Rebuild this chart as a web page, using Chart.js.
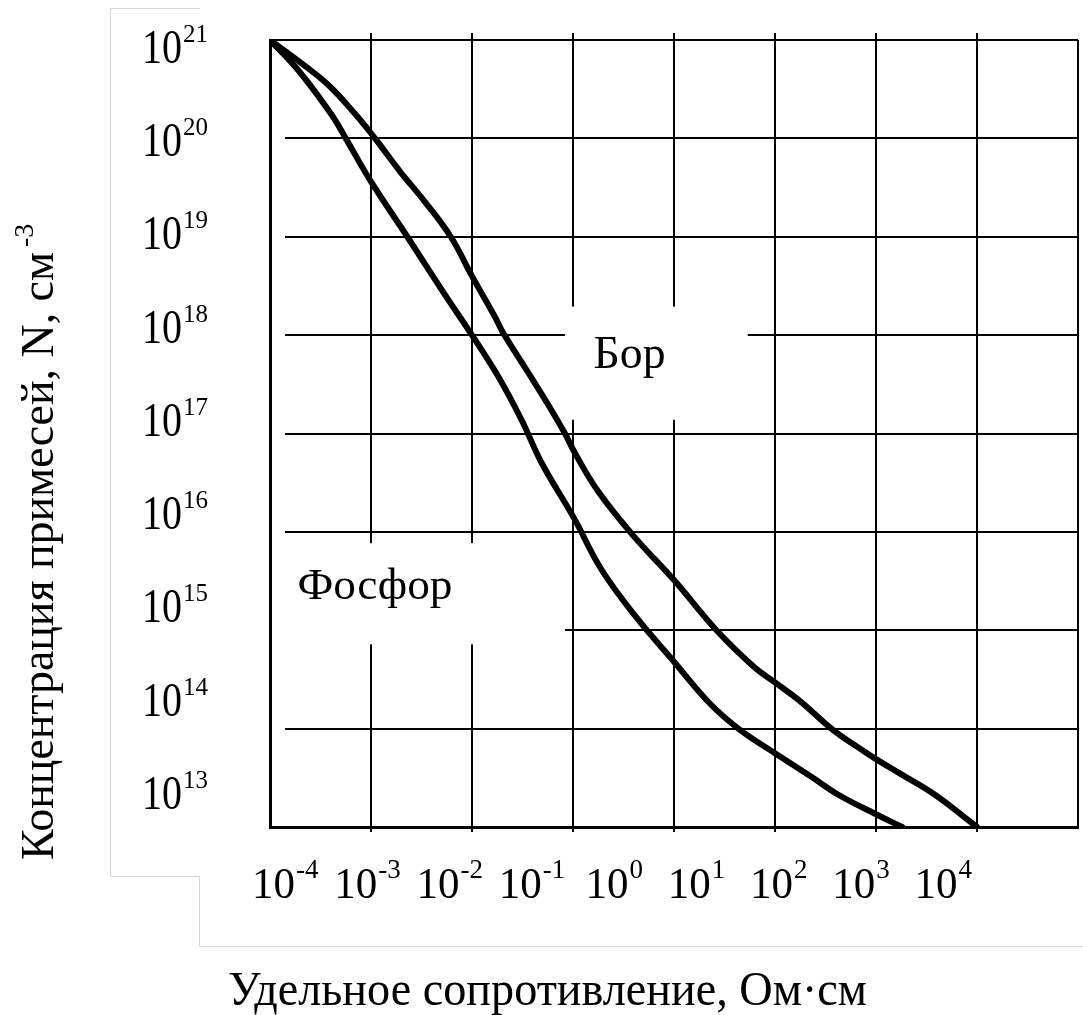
<!DOCTYPE html>
<html lang="ru">
<head>
<meta charset="UTF-8" />
<title>Концентрация примесей и удельное сопротивление</title>
<script src="https://cdn.jsdelivr.net/npm/chart.js@4"></script>
<style>
  html, body {
    margin: 0;
    padding: 0;
    background: #fff;
    overflow: hidden;
  }
  #wrap {
    position: relative;
    width: 1083px;
    height: 1015px;
  }
  .frame {
    position: absolute;
    background: #d6d6d6;
  }
  canvas {
    position: absolute;
    left: 0;
    top: 0;
  }
</style>
</head>
<body>
<div id="wrap">
  <!-- светло-серая рамка вокруг рисунка -->
  <div class="frame" style="left:110px;top:8px;width:90px;height:1px"></div>
  <div class="frame" style="left:110px;top:8px;width:1px;height:869px"></div>
  <div class="frame" style="left:110px;top:876px;width:90px;height:1px"></div>
  <div class="frame" style="left:199px;top:876px;width:1px;height:71px"></div>
  <div class="frame" style="left:199px;top:946px;width:884px;height:1px"></div>
  <canvas id="chart" width="1083" height="1015"></canvas>
</div>

<script>
  // Значения, в десятичных логарифмах:
  // lg ρ (Ом·см) и lg N (см^-3)
  const borLgRho = [-4, -3.71, -3.42, -3.15, -2.96, -2.71, -2.47, -2.21, -2.0, -1.77, -1.69,
                    -1.45, -1.25, -1.08, -0.98, -0.75, -0.41, 0, 0.43, 0.79, 1.0, 1.26, 1.57,
                    1.88, 2.0, 2.26, 2.58, 3.0];
  const borLgN   = [21, 20.78, 20.54, 20.24, 20.0, 19.66, 19.36, 19.0, 18.6, 18.18, 18.02,
                    17.63, 17.3, 17.0, 16.8, 16.41, 15.97, 15.51, 14.99, 14.63, 14.47, 14.27, 13.99,
                    13.77, 13.69, 13.53, 13.33, 13.0];

  const fosLgRho = [-4, -3.71, -3.39, -3.25, -3.0, -2.64, -2.28, -2.0, -1.74, -1.51, -1.31,
                    -0.99, -0.72, -0.38, 0, 0.36, 0.65, 1.0, 1.36, 1.64, 2.0, 2.26];
  const fosLgN   = [21, 20.68, 20.24, 20.0, 19.56, 19.0, 18.43, 18.0, 17.58, 17.14, 16.7,
                    16.14, 15.62, 15.14, 14.68, 14.25, 13.99, 13.75, 13.51, 13.32, 13.13, 13.0];

  // декады сетки
  const rhoDecades = [-4, -3, -2, -1, 0, 1, 2, 3, 4];
  const nDecades = [13, 14, 15, 16, 17, 18, 19, 20, 21];

  // подписи делений (показатели степени у "10")
  const xTickExp = ['-4', '-3', '-2', '-1', '0', '1', '2', '3', '4'];
  const yTickExp = ['13', '14', '15', '16', '17', '18', '19', '20', '21'];

  const xTitle = 'Удельное сопротивление, Ом·см';
  const yTitle = 'Концентрация примесей, N, см';
  const yTitleSup = '-3';
  const borLabel = 'Бор';
  const fosLabel = 'Фосфор';

  const FONT = '"Liberation Serif", "Times New Roman", serif';

  const toPoints = (lx, ly) => lx.map((v, i) => ({ x: Math.pow(10, v), y: Math.pow(10, ly[i]) }));

  function fitText(ctx, text, x, y, size, width, align) {
    ctx.font = size + 'px ' + FONT;
    const w = ctx.measureText(text).width;
    const k = width ? width / w : 1;
    ctx.save();
    ctx.translate(x, y);
    ctx.scale(k, 1);
    ctx.textAlign = align || 'left';
    ctx.textBaseline = 'alphabetic';
    ctx.fillText(text, 0, 0);
    ctx.restore();
    return w * k;
  }

  // "10" со степенью
  function drawPow(ctx, exp, x, base, o) {
    ctx.font = o.size + 'px ' + FONT;
    const w1 = ctx.measureText('10').width * o.sx;
    ctx.font = o.sup + 'px ' + FONT;
    const w2 = ctx.measureText(exp).width * o.sx;
    const x0 = o.align === 'center' ? x - (w1 + w2 + 1) / 2 : x;

    ctx.save();
    ctx.textAlign = 'left';
    ctx.textBaseline = 'alphabetic';
    ctx.translate(x0, base);
    ctx.scale(o.sx, o.sy);
    ctx.font = o.size + 'px ' + FONT;
    ctx.fillText('10', 0, 0);
    ctx.restore();

    ctx.save();
    ctx.textAlign = 'left';
    ctx.textBaseline = 'alphabetic';
    ctx.translate(x0 + w1 + 1, base - o.raise);
    ctx.scale(o.sx, o.supSy);
    ctx.font = o.sup + 'px ' + FONT;
    ctx.fillText(exp, 0, 0);
    ctx.restore();
  }

  const annotate = {
    id: 'annotate',
    // белые подложки под надписями дают разрывы линий сетки
    beforeDatasetsDraw(chart) {
      const { ctx, chartArea: a, scales: { x, y } } = chart;
      const px = v => x.getPixelForValue(Math.pow(10, v));
      const py = v => y.getPixelForValue(Math.pow(10, v));
      ctx.save();
      ctx.fillStyle = '#fff';
      const boxes = [
        [-1.08, 0.73, 18.29, 17.14],
        [-4, -1.08, 15.885, 14.857]
      ];
      boxes.forEach(b => {
        const x1 = Math.max(px(b[0]), a.left + 2);
        ctx.fillRect(x1, py(b[2]), px(b[1]) - x1, py(b[3]) - py(b[2]));
      });
      // горизонтальные линии начинаются чуть правее оси
      ctx.fillRect(a.left + 2, py(20.5), 13, a.bottom - 3 - py(20.5));
      ctx.restore();
    },
    afterDraw(chart) {
      const { ctx, chartArea: a, scales: { x, y, xLab, yLab } } = chart;
      ctx.save();
      ctx.fillStyle = '#000';

      // надписи кривых
      fitText(ctx, borLabel, x.getPixelForValue(Math.pow(10, -0.44)),
              y.getPixelForValue(Math.pow(10, 17.67)), 47, 72, 'center');
      fitText(ctx, fosLabel, x.getPixelForValue(Math.pow(10, -2.96)),
              y.getPixelForValue(Math.pow(10, 15.317)), 45, 155, 'center');

      // подписи делений по оси X
      xTickExp.forEach((e, i) => {
        drawPow(ctx, e, xLab.getPixelForValue(i), a.bottom + 71,
          { size: 43, sup: 27, raise: 20, sx: 1, sy: 1.02, supSy: 1, align: 'center' });
      });

      // подписи делений по оси Y
      yTickExp.forEach((e, i) => {
        drawPow(ctx, e, a.left - 128, yLab.getPixelForValue(i) + 16.5,
          { size: 40, sup: 25, raise: 21, sx: 1, sy: 1.22, supSy: 1.05, align: 'left' });
      });

      // заголовок оси X
      fitText(ctx, xTitle, 547.5, 1005, 48, 639, 'center');

      // заголовок оси Y (повёрнут)
      ctx.save();
      ctx.translate(53, 860);
      ctx.rotate(-Math.PI / 2);
      const w = fitText(ctx, yTitle, 0, 0, 47, 608, 'left');
      fitText(ctx, yTitleSup, w + 5, -20, 28, 0, 'left');
      ctx.restore();

      ctx.restore();
    }
  };

  const lineStyle = {
    showLine: true,
    borderColor: '#000',
    backgroundColor: '#000',
    borderWidth: 6,
    borderCapStyle: 'round',
    borderJoinStyle: 'round',
    pointRadius: 0,
    fill: false,
    tension: 0.4,
    xAxisID: 'x',
    yAxisID: 'y'
  };

  const zeroHeight = axis => { axis.height = 0; };
  const lastIdx = rhoDecades.length - 1;

  new Chart(document.getElementById('chart'), {
    type: 'scatter',
    data: {
      datasets: [
        Object.assign({ label: borLabel, data: toPoints(borLgRho, borLgN) }, lineStyle),
        Object.assign({ label: fosLabel, data: toPoints(fosLgRho, fosLgN) }, lineStyle)
      ]
    },
    options: {
      responsive: false,
      animation: false,
      events: [],
      layout: { padding: { left: 270, right: 5, top: 40, bottom: 188 } },
      plugins: {
        legend: { display: false },
        tooltip: { enabled: false },
        title: { display: false }
      },
      scales: {
        x: {
          type: 'logarithmic',
          position: 'bottom',
          min: 1e-4,
          max: 1e4,
          afterBuildTicks: axis => { axis.ticks = rhoDecades.map(e => ({ value: Math.pow(10, e) })); },
          afterFit: zeroHeight,
          ticks: { display: false },
          grid: {
            color: '#000',
            lineWidth: 2,
            drawTicks: true,
            tickLength: 5,
            tickColor: c => (c.index === 0 || c.index === lastIdx) ? 'rgba(0,0,0,0)' : '#000'
          },
          border: { display: true, color: '#000', width: 3 }
        },
        xTop: {
          type: 'logarithmic',
          position: 'top',
          min: 1e-4,
          max: 1e4,
          afterBuildTicks: axis => {
            axis.ticks = rhoDecades.slice(1, -1).map(e => ({ value: Math.pow(10, e) }));
          },
          afterFit: zeroHeight,
          ticks: { display: false },
          grid: { drawOnChartArea: false, drawTicks: true, tickLength: 7, color: '#000', lineWidth: 2 },
          border: { display: false }
        },
        y: {
          type: 'logarithmic',
          position: 'left',
          min: 1e13,
          max: 1e21,
          afterBuildTicks: axis => { axis.ticks = nDecades.map(e => ({ value: Math.pow(10, e) })); },
          afterFit: axis => { axis.width = 0; },
          ticks: { display: false },
          grid: { color: '#000', lineWidth: 2, drawTicks: false },
          border: { display: true, color: '#000', width: 3 }
        },
        // вспомогательные шкалы: расстановка подписей делений как на рисунке
        xLab: {
          type: 'linear',
          position: 'bottom',
          display: false,
          min: -0.184,
          max: 9.639
        },
        yLab: {
          type: 'linear',
          position: 'left',
          display: false,
          min: -0.371,
          max: 8.068
        }
      }
    },
    plugins: [annotate]
  });
</script>
</body>
</html>
